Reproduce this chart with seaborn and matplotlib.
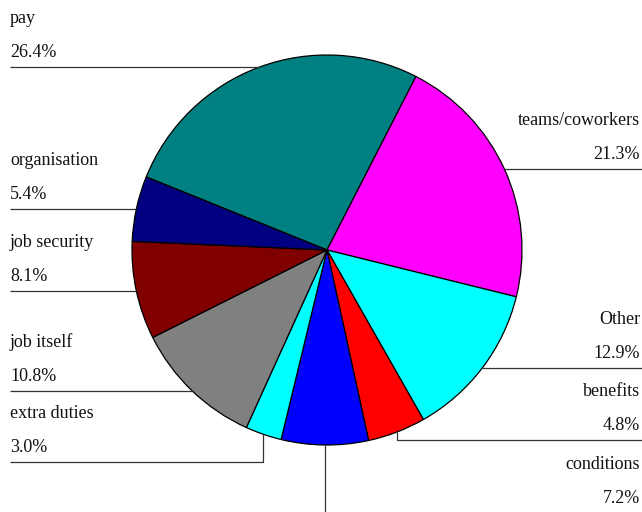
import numpy as np
import matplotlib
matplotlib.use("Agg")
import matplotlib.pyplot as plt
import seaborn as sns

# Reasons given, clockwise from the top
labels = ["pay", "teams/coworkers", "Other", "benefits", "conditions",
          "extra duties", "job itself", "job security", "organisation"]
shares = [26.4, 21.3, 12.9, 4.8, 7.2, 3.0, 10.8, 8.1, 5.4]
colors = ["#008080", "#FF00FF", "#00FFFF", "#FF0000", "#0000FF",
          "#00FFFF", "#808080", "#800000", "#000080"]

sns.set_theme(style="white")
plt.rcParams["font.family"] = ["Liberation Serif", "DejaVu Serif"]

W, H = 642, 512
fig = plt.figure(figsize=(W / 100, H / 100), dpi=100)
ax = fig.add_axes([0, 0, 1, 1])

cx, cy, r = 327, H - 250, 195
wedges, _ = ax.pie(shares, colors=colors, startangle=158, counterclock=False,
                   center=(cx, cy), radius=r, frame=True,
                   wedgeprops=dict(edgecolor="black", linewidth=0.9))
ax.set_xlim(0, W)
ax.set_ylim(0, H)
ax.set_aspect("equal")
ax.axis("off")

# label side and, for the lower slices, the row (from the top) of the leader
side = ["left", "right", "right", "right", "right", "left", "left", "left", "left"]
row = {"benefits": 440, "conditions": 512.8, "extra duties": 462}

fs = 13
for w, lab, val, sd in zip(wedges, labels, shares, side):
    mid = np.deg2rad((w.theta1 + w.theta2) / 2)
    px, py = cx + r * np.cos(mid), cy + r * np.sin(mid)
    ly = H - row[lab] if lab in row else py
    if sd == "left":
        xe, tx, ha = 10, 10, "left"
    else:
        xe, tx, ha = W, 640, "right"
    ax.plot([xe, px, px], [ly, ly, py], color="#333333", lw=0.9,
            solid_capstyle="butt", clip_on=False)
    ax.text(tx, ly + 10, f"{val:.1f}%", ha=ha, va="baseline", fontsize=fs,
            color="#111111")
    ax.text(tx, ly + 44, lab, ha=ha, va="baseline", fontsize=fs,
            color="#111111")

fig.savefig("out.png", dpi=100, facecolor="white")
